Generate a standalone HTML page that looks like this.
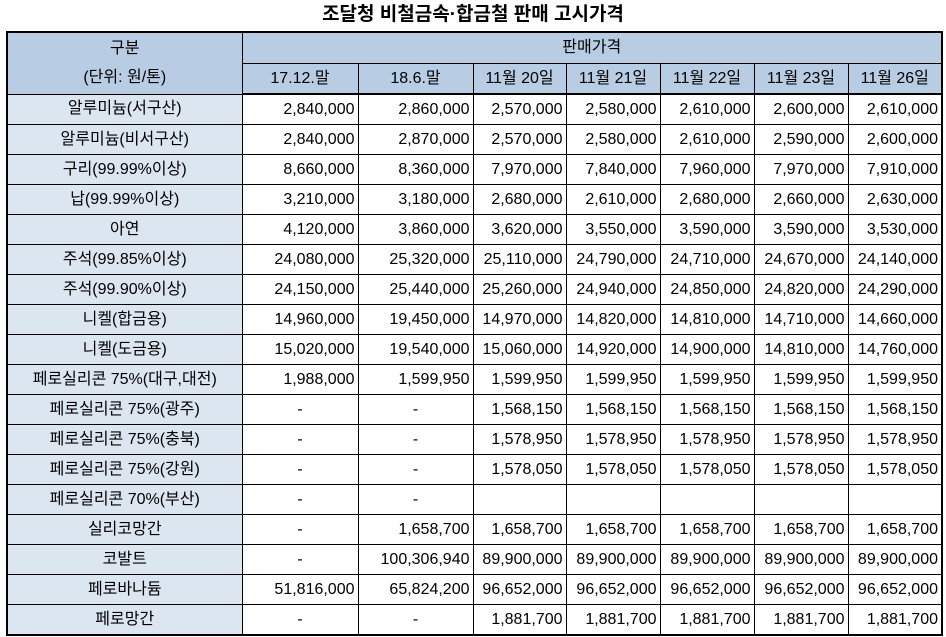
<!DOCTYPE html>
<html><head><meta charset="utf-8"><style>
body{margin:0;width:946px;height:637px;background:#fff;font-family:"Liberation Sans","Noto Sans CJK KR",sans-serif;overflow:hidden;position:relative}
#title{position:absolute;top:3px;left:0;width:946px;text-align:center;font-weight:bold;font-size:19px;line-height:24px;color:#000}
table{position:absolute;left:6px;top:31px;border-collapse:collapse;table-layout:fixed;border:2px solid #000;font-size:16px;color:#000}
td{border:1px solid #000;padding:0 3px;height:29px;white-space:nowrap;overflow:hidden;text-align:right;line-height:20px}
td.h{background:#b8cce4;text-align:center}
td.n{background:#dce6f1;text-align:center}
td.c{text-align:center}
tr.hb td{border-bottom:2px solid #000}
</style></head><body>
<div id="title">조달청 비철금속·합금철 판매 고시가격</div>
<table>
<colgroup><col style="width:235px"><col style="width:116px"><col style="width:115px"><col style="width:93px"><col style="width:94px"><col style="width:94px"><col style="width:94px"><col style="width:94px"></colgroup>
<tr><td class="h" rowspan="2" style="line-height:29px">구분<br>(단위: 원/톤)</td><td class="h" colspan="7" style="height:30px">판매가격</td></tr>
<tr class="hb"><td class="h">17.12.말</td><td class="h">18.6.말</td><td class="h">11월 20일</td><td class="h">11월 21일</td><td class="h">11월 22일</td><td class="h">11월 23일</td><td class="h">11월 26일</td></tr>
<tbody id="body"></tbody>
</table>
<script>
const names=["알루미늄(서구산)","알루미늄(비서구산)","구리(99.99%이상)","납(99.99%이상)","아연","주석(99.85%이상)","주석(99.90%이상)","니켈(합금용)","니켈(도금용)","페로실리콘 75%(대구,대전)","페로실리콘 75%(광주)","페로실리콘 75%(충북)","페로실리콘 75%(강원)","페로실리콘 70%(부산)","실리코망간","코발트","페로바나듐","페로망간"];
const rows=[
["2,840,000","2,860,000","2,570,000","2,580,000","2,610,000","2,600,000","2,610,000"],
["2,840,000","2,870,000","2,570,000","2,580,000","2,610,000","2,590,000","2,600,000"],
["8,660,000","8,360,000","7,970,000","7,840,000","7,960,000","7,970,000","7,910,000"],
["3,210,000","3,180,000","2,680,000","2,610,000","2,680,000","2,660,000","2,630,000"],
["4,120,000","3,860,000","3,620,000","3,550,000","3,590,000","3,590,000","3,530,000"],
["24,080,000","25,320,000","25,110,000","24,790,000","24,710,000","24,670,000","24,140,000"],
["24,150,000","25,440,000","25,260,000","24,940,000","24,850,000","24,820,000","24,290,000"],
["14,960,000","19,450,000","14,970,000","14,820,000","14,810,000","14,710,000","14,660,000"],
["15,020,000","19,540,000","15,060,000","14,920,000","14,900,000","14,810,000","14,760,000"],
["1,988,000","1,599,950","1,599,950","1,599,950","1,599,950","1,599,950","1,599,950"],
["-","-","1,568,150","1,568,150","1,568,150","1,568,150","1,568,150"],
["-","-","1,578,950","1,578,950","1,578,950","1,578,950","1,578,950"],
["-","-","1,578,050","1,578,050","1,578,050","1,578,050","1,578,050"],
["-","-","","","","",""],
["-","1,658,700","1,658,700","1,658,700","1,658,700","1,658,700","1,658,700"],
["-","100,306,940","89,900,000","89,900,000","89,900,000","89,900,000","89,900,000"],
["51,816,000","65,824,200","96,652,000","96,652,000","96,652,000","96,652,000","96,652,000"],
["-","-","1,881,700","1,881,700","1,881,700","1,881,700","1,881,700"]];
const tb=document.getElementById('body');
names.forEach((n,i)=>{
 const tr=document.createElement('tr');
 
 
 const th=document.createElement('td');th.className='n';th.textContent=n;
 
 
 tr.appendChild(th);
 rows[i].forEach(v=>{const td=document.createElement('td');td.textContent=v;if(v==='-')td.className='c';
  
  
  tr.appendChild(td);});
 tb.appendChild(tr);
});
</script>
</body></html>
